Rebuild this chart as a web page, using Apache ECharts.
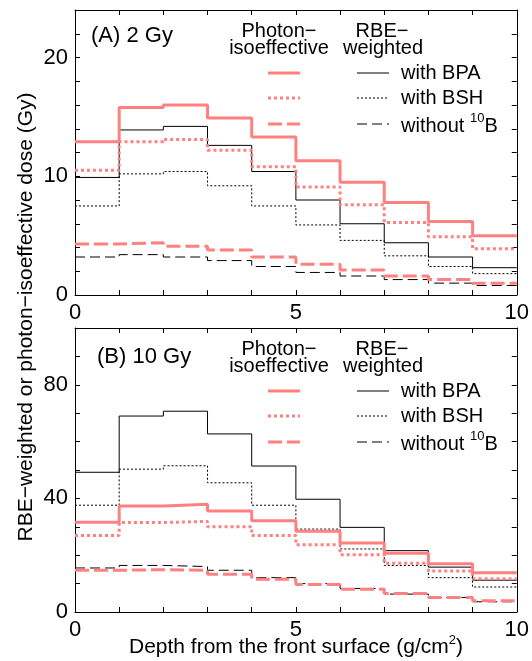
<!DOCTYPE html>
<html><head><meta charset="utf-8">
<script src="https://cdn.jsdelivr.net/npm/echarts@6/dist/echarts.min.js"></script>
<style>html,body{margin:0;padding:0;background:#fff}#c{width:532px;height:661px}</style>
</head><body><div id="c"></div>
<script>
// bin edges (depth, g/cm2)
const depthEdges = [0,1,2,3,4,5,6,7,8,9,10];
const xTickLabels = [0,5,10];
const yTicksA = [0,10,20];
const yTicksB = [0,40,80];
// Panel A: 2 Gy
const a_photonBPA = [12.9,15.8,16.0,14.9,13.3,11.3,9.5,7.8,6.2,5.0];
const a_photonBSH = [10.5,12.9,13.1,12.2,10.8,9.1,7.6,6.1,4.9,3.9];
const a_photonNoB = [4.3,4.4,4.1,3.8,3.2,2.6,2.1,1.6,1.3,1.0];
const a_rbeBPA = [9.9,13.9,14.2,12.6,10.4,8.0,6.0,4.4,3.2,2.3];
const a_rbeBSH = [7.5,10.2,10.4,9.2,7.5,5.9,4.6,3.3,2.4,1.8];
const a_rbeNoB = [3.2,3.4,3.2,2.9,2.4,1.9,1.6,1.3,1.0,0.8];
// Panel B: 10 Gy
const b_photonBPA = [31.6,37.3,37.9,35.6,32.1,28.4,24.3,20.7,17.0,13.8];
const b_photonBSH = [26.9,31.5,31.9,30.0,26.9,23.7,20.2,17.2,14.4,11.7];
const b_photonNoB = [14.7,14.9,14.7,13.3,11.5,9.7,8.0,6.5,5.1,4.0];
const b_rbeBPA = [49.2,69.0,70.7,62.7,51.4,39.7,29.8,21.6,15.8,11.2];
const b_rbeBSH = [37.6,50.3,51.5,45.5,37.6,29.2,22.2,16.4,12.1,8.8];
const b_rbeNoB = [15.5,16.4,16.0,14.7,12.1,10.0,8.3,6.3,5.1,3.6];

const FF = '"Liberation Sans", Arial, sans-serif';
const RED = '#ff8080';

function steps(vals){
  const d = vals.map((v,i)=>[depthEdges[i], v]);
  d.push([depthEdges[depthEdges.length-1], vals[vals.length-1]]);
  return d;
}
const styles = {
  rbeBPA:{color:'#000',width:1,type:'solid'},
  rbeBSH:{color:'#000',width:1,type:[2,2]},
  rbeNoB:{color:'#000',width:1,type:[10,5]},
  photonBPA:{color:RED,width:3,type:'solid'},
  photonBSH:{color:RED,width:3,type:[3,3]},
  photonNoB:{color:RED,width:3,type:[14,5]}
};
function ser(name, vals, key, g){
  return {name, type:'line', step:'end', xAxisIndex:g*2, yAxisIndex:g*2, showSymbol:false, symbol:'none',
    data:steps(vals), lineStyle:styles[key], itemStyle:{color:styles[key].color}, z: key.startsWith('photon')?3:2, silent:true};
}
function xAxes(g){
  const common = {gridIndex:g, type:'value', min:0, max:10, interval:1,
    axisLine:{show:true, onZero:false, lineStyle:{color:'#000',width:1}},
    axisTick:{show:true, inside:true, length:5, lineStyle:{color:'#000'}},
    splitLine:{show:false}};
  return [
    Object.assign({}, common, {position:'bottom',
      axisLabel:{show:true, fontSize:22, fontFamily:FF, color:'#000', margin:7,
        formatter:v=> xTickLabels.includes(v)? String(v):''}}),
    Object.assign({}, common, {position:'top', axisLabel:{show:false}})
  ];
}
function yAxes(g, max, interval, labels){
  const common = {gridIndex:g, type:'value', min:0, max, interval,
    axisLine:{show:true, onZero:false, lineStyle:{color:'#000',width:1}},
    axisTick:{show:true, inside:true, length:5, lineStyle:{color:'#000'}},
    splitLine:{show:false}};
  return [
    Object.assign({}, common, {position:'left',
      axisLabel:{show:true, fontSize:22, fontFamily:FF, color:'#000', margin:7,
        formatter:v=> labels.includes(v)? String(v):''}}),
    Object.assign({}, common, {position:'right', axisLabel:{show:false}})
  ];
}
function txt(x,y,text,align,size,extra){
  return Object.assign({type:'text', x, y, silent:true, style:{text, x:0, y:0, fill:'#000', fontSize:size||20, fontFamily:FF,
    align:align||'left', textAlign:align||'left', verticalAlign:'middle', textVerticalAlign:'middle'}}, extra||{});
}
function ln(x1,x2,y,key){
  const s = styles[key];
  return {type:'line', silent:true, shape:{x1,y1:y,x2,y2:y}, style:{stroke:s.color, lineWidth:s.width, lineDash: s.type==='solid'?null:s.type}};
}
function legend(off){
  const els = [];
  els.push(txt(279,31+off,'Photon\u2212','center'));
  els.push(txt(279,48+off,'isoeffective','center'));
  els.push(txt(382,31+off,'RBE\u2212','center'));
  els.push(txt(383,48+off,'weighted','center'));
  const ys=[73,98,124], keys=['BPA','BSH','NoB'];
  keys.forEach((k,i)=>{
    els.push(ln(268,300,ys[i]+off,'photon'+k));
    els.push(ln(357,389,ys[i]+off,'rbe'+k));
  });
  els.push(txt(401,73+off,'with BPA','left'));
  els.push(txt(401,98+off,'with BSH','left'));
  els.push({type:'text', x:401, y:124+off, silent:true, style:{
    text:'{n|without }{s|10}{n|B}', x:0, y:0, fill:'#000', fontFamily:FF,
    align:'left', textAlign:'left', verticalAlign:'middle', textVerticalAlign:'middle',
    rich:{n:{fontSize:20, fontFamily:FF, lineHeight:24, verticalAlign:'bottom'}, s:{fontSize:13, fontFamily:FF, lineHeight:24, verticalAlign:'top', padding:[0,0,10,0]}}}});
  return els;
}

const chart = echarts.init(document.getElementById('c'), null, {renderer:'canvas'});
chart.setOption({
  animation:false,
  backgroundColor:'#fff',
  grid:[
    {left:75, right:13, top:10, height:285},
    {left:75, right:13, top:328, height:284}
  ],
  xAxis:[...xAxes(0), ...xAxes(1)],
  yAxis:[...yAxes(0,24,2,yTicksA), ...yAxes(1,100,10,yTicksB)],
  series:[
    ser('RBE-weighted with BPA (A)', a_rbeBPA, 'rbeBPA', 0),
    ser('RBE-weighted with BSH (A)', a_rbeBSH, 'rbeBSH', 0),
    ser('RBE-weighted without 10B (A)', a_rbeNoB, 'rbeNoB', 0),
    ser('Photon-isoeffective with BPA (A)', a_photonBPA, 'photonBPA', 0),
    ser('Photon-isoeffective with BSH (A)', a_photonBSH, 'photonBSH', 0),
    ser('Photon-isoeffective without 10B (A)', a_photonNoB, 'photonNoB', 0),
    ser('RBE-weighted with BPA (B)', b_rbeBPA, 'rbeBPA', 1),
    ser('RBE-weighted with BSH (B)', b_rbeBSH, 'rbeBSH', 1),
    ser('RBE-weighted without 10B (B)', b_rbeNoB, 'rbeNoB', 1),
    ser('Photon-isoeffective with BPA (B)', b_photonBPA, 'photonBPA', 1),
    ser('Photon-isoeffective with BSH (B)', b_photonBSH, 'photonBSH', 1),
    ser('Photon-isoeffective without 10B (B)', b_photonNoB, 'photonNoB', 1)
  ],
  graphic:[
    txt(91,36,'(A) 2 Gy','left',22),
    txt(97,357,'(B) 10 Gy','left',22),
    ...legend(0),
    ...legend(318),
    txt(26,317,'RBE\u2212weighted or photon\u2212isoeffective dose (Gy)','center',21,{rotation:Math.PI/2}),
    {type:'text', x:296, y:646, silent:true, style:{
      text:'{n|Depth from the front surface (g/cm}{s|2}{n|)}', x:0, y:0, fill:'#000', fontFamily:FF,
      align:'center', textAlign:'center', verticalAlign:'middle', textVerticalAlign:'middle',
      rich:{n:{fontSize:21, fontFamily:FF, lineHeight:24, verticalAlign:'bottom'}, s:{fontSize:13, fontFamily:FF, lineHeight:24, verticalAlign:'top', padding:[0,0,10,0]}}}}
  ]
});
</script></body></html>
